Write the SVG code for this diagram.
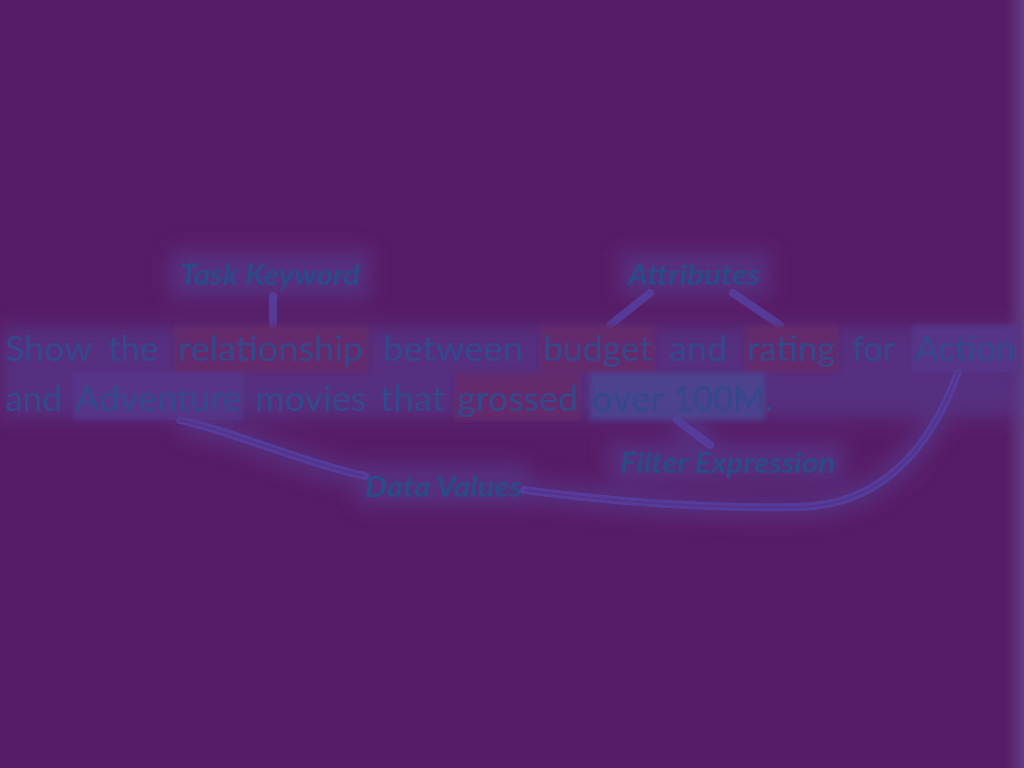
<svg xmlns="http://www.w3.org/2000/svg" width="1024" height="768" viewBox="0 0 1024 768">
<defs>
<filter id="glow" x="-20%" y="-50%" width="140%" height="200%"><feGaussianBlur stdDeviation="10"/></filter>
<filter id="soft" x="-10%" y="-30%" width="120%" height="160%"><feGaussianBlur stdDeviation="2.5"/></filter>
<linearGradient id="edge" x1="0" x2="1" y1="0" y2="0"><stop offset="0" stop-color="#581c66"/><stop offset="1" stop-color="#603e86"/></linearGradient>
<style>
.w{font-family:Lato,"Open Sans",sans-serif;font-size:35px;fill:#33498c}
.lb{font-family:Lato,"Open Sans",sans-serif;font-size:29px;font-weight:bold;font-style:italic;fill:#2a4a88}
.hr{fill:#652a6a;opacity:0.85}
.hb{fill:#4a4690;opacity:0.85}
.hp{fill:#56358a;opacity:0.85}
.c{fill:none;stroke:#5640a0;stroke-width:8;stroke-linecap:round;opacity:0.85}
.ci{fill:none;stroke:#55338c;stroke-width:2}
.g{fill:#553c92}
</style>
</defs>
<rect width="1024" height="768" fill="#581c66"/>
<rect x="1006" y="0" width="18" height="768" fill="url(#edge)"/>
<g id="glowlayer" filter="url(#glow)" opacity="0.6">
<rect class="g" x="170" y="250" width="200" height="48"/>
<rect class="g" x="620" y="252" width="150" height="44"/>
<rect class="g" x="0" y="326" width="1020" height="92"/>
<rect class="g" x="608" y="442" width="236" height="40"/>
<rect class="g" x="358" y="464" width="170" height="42"/>
<path d="M180,422 C240,435 300,465 365,478" stroke="#553c92" stroke-width="22" fill="none"/>
<path d="M958,372 C930,450 880,505 800,507 C700,509 600,500 524,490" stroke="#553c92" stroke-width="22" fill="none"/>
<path d="M677,420 L710,445" stroke="#553c92" stroke-width="22"/>
</g>
<g id="connectors">
<path class="c" d="M273,296 L273,325"/>
<path class="c" d="M650,293 L610,325"/>
<path class="c" d="M733,293 L780,325"/>
<path class="c" d="M677,420 L710,445"/>
<path class="c" d="M180,420 C235,432 300,462 365,476"/>
<path class="c" d="M958,372 C930,450 880,505 800,507 C700,509 600,500 524,490"/>
<path class="ci" d="M180,420 C235,432 300,462 365,476"/>
<path class="ci" d="M958,372 C930,450 880,505 800,507 C700,509 600,500 524,490"/>
</g>
<g id="highlights" filter="url(#soft)">
<rect class="hr" x="175" y="325" width="193" height="47"/>
<rect class="hr" x="540" y="325" width="115" height="47"/>
<rect class="hr" x="745" y="325" width="93" height="47"/>
<rect class="hp" x="912" y="325" width="105" height="47"/>
<rect class="hp" x="73" y="373" width="170" height="47"/>
<rect class="hr" x="455" y="373" width="125" height="47"/>
<rect class="hb" x="590" y="373" width="175" height="47"/>
</g>
<g id="sentence">
<text class="w" x="5" y="361" textLength="87" lengthAdjust="spacingAndGlyphs">Show</text>
<text class="w" x="108" y="361" textLength="50" lengthAdjust="spacingAndGlyphs">the</text>
<text class="w" x="178" y="361" textLength="185" lengthAdjust="spacingAndGlyphs">relationship</text>
<text class="w" x="383" y="361" textLength="140" lengthAdjust="spacingAndGlyphs">between</text>
<text class="w" x="543" y="361" textLength="109" lengthAdjust="spacingAndGlyphs">budget</text>
<text class="w" x="669" y="361" textLength="58" lengthAdjust="spacingAndGlyphs">and</text>
<text class="w" x="747" y="361" textLength="88" lengthAdjust="spacingAndGlyphs">rating</text>
<text class="w" x="852" y="361" textLength="43" lengthAdjust="spacingAndGlyphs">for</text>
<text class="w" x="915" y="361" textLength="100" lengthAdjust="spacingAndGlyphs">Action</text>
<text class="w" x="5" y="411" textLength="57" lengthAdjust="spacingAndGlyphs">and</text>
<text class="w" x="75" y="411" textLength="167" lengthAdjust="spacingAndGlyphs">Adventure</text>
<text class="w" x="255" y="411" textLength="111" lengthAdjust="spacingAndGlyphs">movies</text>
<text class="w" x="380" y="411" textLength="65" lengthAdjust="spacingAndGlyphs">that</text>
<text class="w" x="457" y="411" textLength="121" lengthAdjust="spacingAndGlyphs">grossed</text>
<text class="w" x="592" y="411" textLength="72" lengthAdjust="spacingAndGlyphs">over</text>
<text class="w" x="673" y="411" textLength="100" lengthAdjust="spacingAndGlyphs">100M.</text>
</g>
<g id="task-keyword"><text class="lb" x="180" y="285" textLength="180" lengthAdjust="spacingAndGlyphs">Task Keyword</text></g>
<g id="attributes"><text class="lb" x="628" y="285" textLength="132" lengthAdjust="spacingAndGlyphs">Attributes</text></g>
<g id="filter-expression"><text class="lb" x="620" y="473" textLength="215" lengthAdjust="spacingAndGlyphs">Filter Expression</text></g>
<g id="data-values"><text class="lb" x="365" y="497" textLength="157" lengthAdjust="spacingAndGlyphs">Data Values</text></g>
</svg>
